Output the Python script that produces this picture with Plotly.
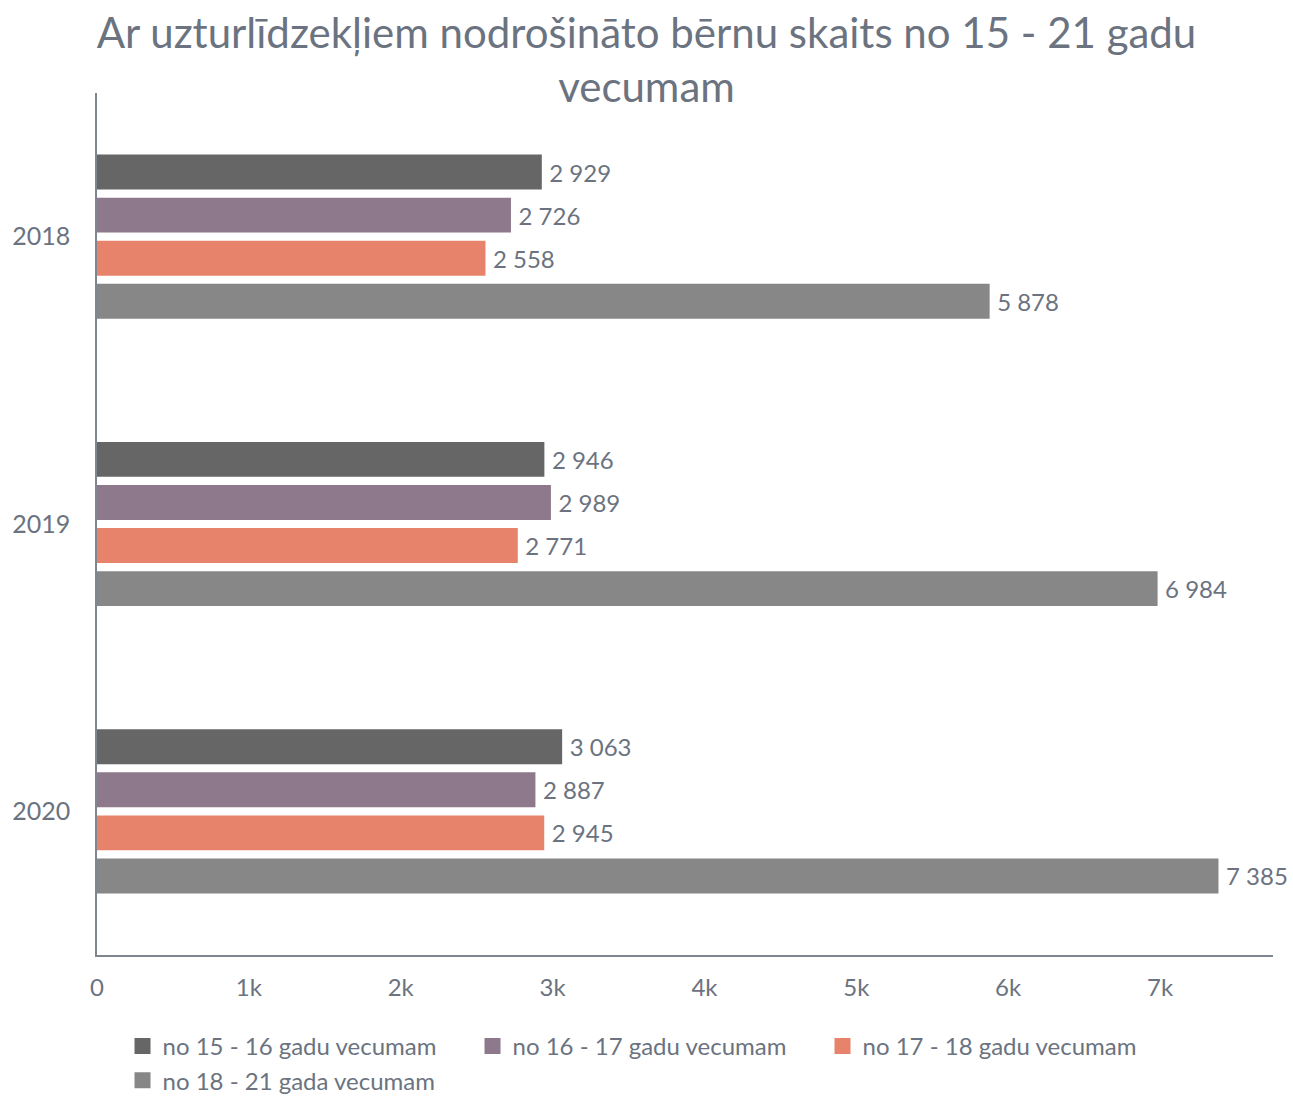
import plotly.graph_objects as go

years = ["2018", "2019", "2020"]
series_names = ["no 15 - 16 gadu vecumam", "no 16 - 17 gadu vecumam",
                "no 17 - 18 gadu vecumam", "no 18 - 21 gada vecumam"]
v_15_16 = [2929, 2946, 3063]
v_16_17 = [2726, 2989, 2887]
v_17_18 = [2558, 2771, 2945]
v_18_21 = [5878, 6984, 7385]
colors = ["#666666", "#8d798b", "#e8836b", "#878787"]
x_tickvals = [0, 1000, 2000, 3000, 4000, 5000, 6000, 7000]
x_ticktext = ["0", "1k", "2k", "3k", "4k", "5k", "6k", "7k"]

TEXT = "#6b7380"
FONT = "Lato, 'Open Sans', sans-serif"

fig = go.Figure()
for i, (name, vals, col) in enumerate(zip(series_names, [v_15_16, v_16_17, v_17_18, v_18_21], colors)):
    fig.add_trace(go.Bar(
        y=years, x=vals, name=name, orientation="h",
        legendgroup=f"g{i}", showlegend=False,
        marker=dict(color=col, line=dict(width=0)),
        text=vals, texttemplate="\u2009\u200a%{x:,}", textposition="outside",
        textfont=dict(color=TEXT, size=24, family=FONT),
        cliponaxis=False,
    ))
# legend entries with larger square swatches, linked to the bars
for i, (name, col) in enumerate(zip(series_names, colors)):
    fig.add_trace(go.Scatter(
        x=[None], y=[None], mode="markers", name=name, legendgroup=f"g{i}",
        marker=dict(symbol="square", size=22, color=col), showlegend=True,
    ))

fig.update_layout(
    width=1293, height=1097,
    paper_bgcolor="white", plot_bgcolor="white",
    separators=". ",
    barmode="group", bargap=0.4, bargroupgap=0.19,
    margin=dict(l=97, r=20, t=93, b=142, autoexpand=False),
    font=dict(family=FONT, color=TEXT, size=24),
    title=dict(text="Ar uzturlīdzekļiem nodrošināto bērnu skaits no 15 - 21 gadu<br>vecumam",
               x=0.5, xanchor="center", y=0.9565, yanchor="top",
               font=dict(size=42, color=TEXT, family=FONT)),
    xaxis=dict(range=[0, 7744], tickvals=x_tickvals, ticktext=x_ticktext,
               showgrid=False, zeroline=False, showline=True, linecolor="#7f8690",
               linewidth=1.5, ticks="", ticklabelstandoff=10,
               tickfont=dict(size=24, color=TEXT)),
    yaxis=dict(autorange="reversed", showgrid=False, zeroline=False, showline=True,
               linecolor="#7f8690", linewidth=1.5, ticks="", ticklabelstandoff=20,
               tickfont=dict(size=25, color=TEXT)),
    legend=dict(orientation="h", x=0.0217, xanchor="left", y=-0.080, yanchor="top",
                entrywidth=305, entrywidthmode="pixels", itemsizing="trace",
                font=dict(size=24, color=TEXT), traceorder="normal"),
)

fig.write_html("out.html", config={"displayModeBar": False},
               post_script="document.body.style.margin='0';document.body.style.overflow='hidden';")
